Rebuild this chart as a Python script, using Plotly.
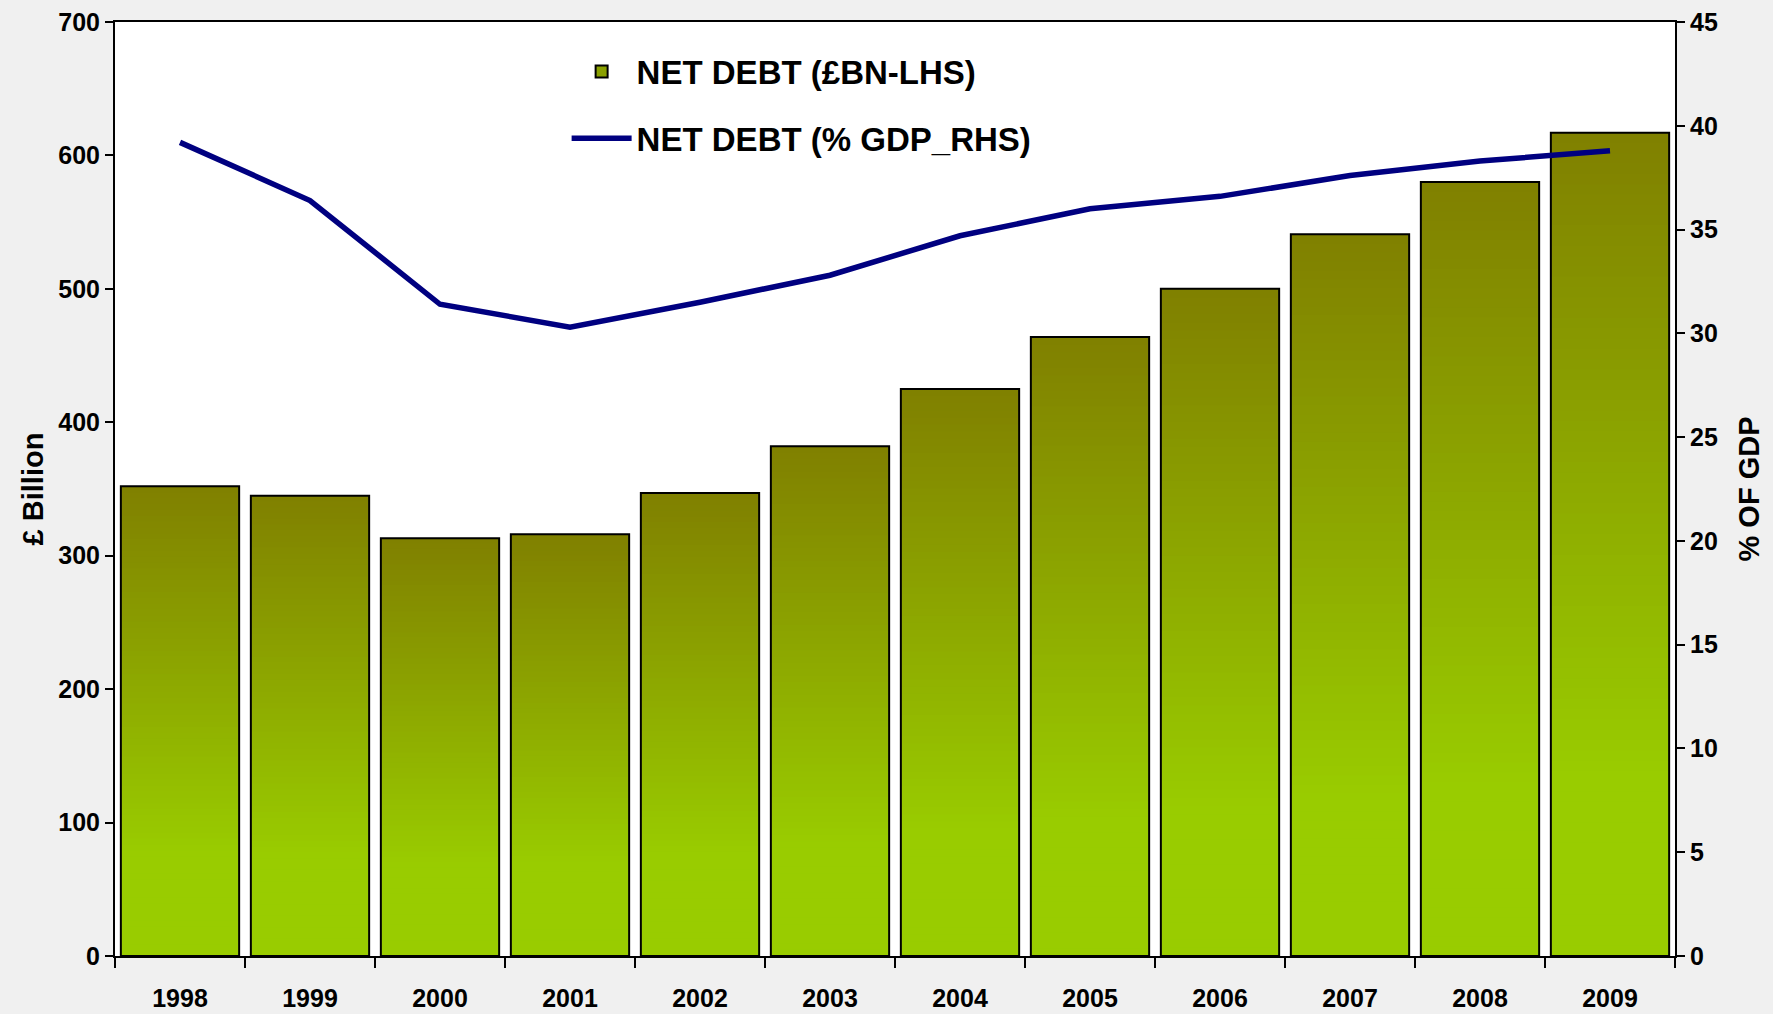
import plotly.graph_objects as go

# UK public sector net debt, 1998-2009
years = ["1998", "1999", "2000", "2001", "2002", "2003",
         "2004", "2005", "2006", "2007", "2008", "2009"]
debt_bn = [352, 345, 313, 316, 347, 382, 425, 464, 500, 541, 580, 617]
debt_pct_gdp = [39.2, 36.4, 31.4, 30.3, 31.5, 32.8, 34.7, 36.0, 36.6, 37.6, 38.3, 38.8]

FONT = "Arial, 'Liberation Sans', Helvetica, sans-serif"
OLIVE = (128, 128, 0)
LIME = (153, 204, 0)


def blend(t):
    """Colour at fraction t of a bar's height (0 = bottom, 1 = top)."""
    # the upper part of each bar stays olive, then fades to lime green
    u = min(1.0, max(0.0, (1.0 - t) / 0.78))
    r, g, b = (round(o + (l - o) * u) for o, l in zip(OLIVE, LIME))
    return f"rgb({r},{g},{b})"


fig = go.Figure()

# each bar is filled with a vertical gradient built from stacked slices;
# every slice reaches into the next one so no seams show between them
N_SLICES = 80
for k in range(N_SLICES):
    lo = [v * k / N_SLICES for v in debt_bn]
    hi = [v * min(k + 2, N_SLICES) / N_SLICES for v in debt_bn]
    fig.add_trace(go.Bar(
        x=years,
        y=[h - l for h, l in zip(hi, lo)],
        base=lo,
        marker=dict(color=blend((k + 0.5) / N_SLICES), line=dict(width=0)),
        showlegend=False,
        hoverinfo="skip",
    ))

# bar outlines on top of the gradient fill
fig.add_trace(go.Bar(
    x=years,
    y=debt_bn,
    marker=dict(color="rgba(0,0,0,0)", line=dict(color="black", width=2)),
    showlegend=False,
    hovertemplate="%{x}: £%{y}bn<extra></extra>",
))

# legend entry for the bars
fig.add_trace(go.Bar(
    x=[None], y=[None],
    name="NET DEBT (£BN-LHS)",
    marker=dict(color="rgb(138,160,0)", line=dict(color="black", width=2)),
    legendgroup="bn",
))

fig.add_trace(go.Scatter(
    x=years,
    y=debt_pct_gdp,
    yaxis="y2",
    mode="lines",
    name="NET DEBT (% GDP_RHS)",
    line=dict(color="#000080", width=5.5),
    legendgroup="pct",
))

tickfont = dict(family=FONT, size=25, color="black", weight="bold")
titlefont = dict(family=FONT, size=29, color="black", weight="bold")

fig.update_layout(
    width=1773,
    height=1014,
    margin=dict(l=115, r=98, t=22, b=58),
    paper_bgcolor="#f0f0f0",
    plot_bgcolor="white",
    barmode="overlay",
    bargap=0.09,
    font=dict(family=FONT, color="black"),
    xaxis=dict(
        type="category",
        automargin=False,
        showline=True, linecolor="black", linewidth=2, mirror=True,
        ticks="outside", tickson="boundaries", ticklen=10, tickwidth=2,
        tickcolor="black",
        tickfont=tickfont,
        ticklabelstandoff=19,
        showgrid=False,
    ),
    yaxis=dict(
        range=[0, 700], dtick=100,
        automargin=False,
        showline=True, linecolor="black", linewidth=2,
        ticks="outside", ticklen=8, tickwidth=2, tickcolor="black",
        tickfont=tickfont,
        showgrid=False, zeroline=False,
        title=dict(text="£ Billion", standoff=6, font=titlefont),
    ),
    yaxis2=dict(
        range=[0, 45], dtick=5,
        automargin=False,
        overlaying="y", side="right",
        showline=True, linecolor="black", linewidth=2,
        ticks="outside", ticklen=8, tickwidth=2, tickcolor="black",
        tickfont=tickfont,
        showgrid=False, zeroline=False,
        title=dict(text="% OF GDP", standoff=22, font=titlefont),
    ),
    legend=dict(
        x=0.2895, y=0.977, xanchor="left", yanchor="top",
        bgcolor="rgba(0,0,0,0)",
        font=dict(family=FONT, size=33, color="black", weight="bold"),
        tracegroupgap=21,
        itemwidth=60,
    ),
)

fig.write_html("out.html")
